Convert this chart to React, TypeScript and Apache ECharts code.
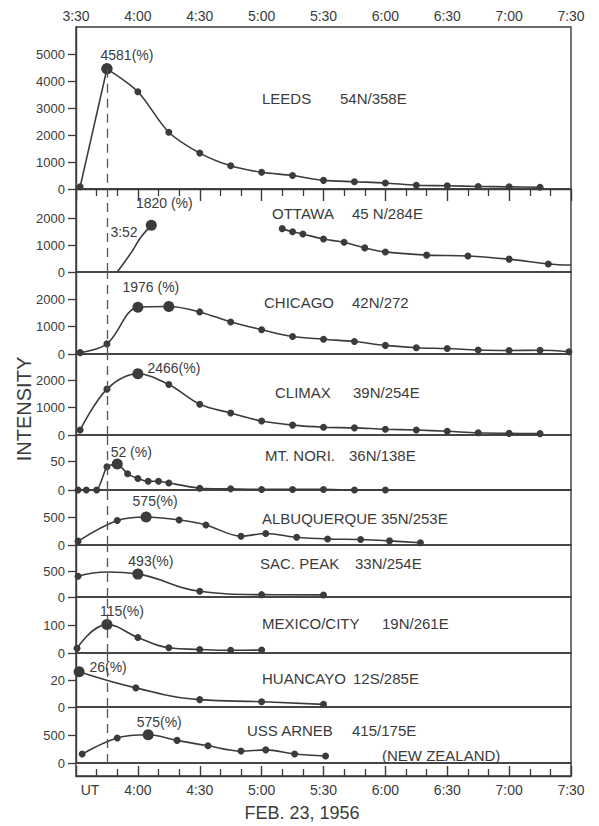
import React, { useEffect, useRef } from "react";
import * as echarts from "echarts";

// ---- time axis (minutes after 3:30 UT) ----
const timeMin = 0;
const timeMax = 240;
const timeInterval = 30;
const dashTime = 15; // dashed vertical line (~3:45)

// ---- station names / coordinates ----
const stationNames = ["LEEDS", "OTTAWA", "CHICAGO", "CLIMAX", "MT. NORI.", "ALBUQUERQUE", "SAC. PEAK", "MEXICO/CITY", "HUANCAYO", "USS ARNEB"];
const stationCoords = ["54N/358E", "45 N/284E", "42N/272", "39N/254E", "36N/138E", "35N/253E", "33N/254E", "19N/261E", "12S/285E", "415/175E"];
const peakLabels = ["4581(%)", "1820 (%)", "1976 (%)", "2466(%)", "52 (%)", "575(%)", "493(%)", "115(%)", "26(%)", "575(%)"];

// ---- y axis ranges and tick labels ----
const yMaxes = [6000, 3100, 3000, 2950, 95, 1000, 1000, 205, 41, 1025];
const leedsTicks = [0, 1000, 2000, 3000, 4000, 5000];
const ottawaTicks = [0, 1000, 2000];
const chicagoTicks = [0, 1000, 2000];
const climaxTicks = [0, 1000, 2000];
const noriTicks = [0, 50];
const albuTicks = [0, 500];
const sacTicks = [0, 500];
const mexicoTicks = [0, 100];
const huancayoTicks = [0, 20];
const arnebTicks = [0, 500];

// ---- series data (time in minutes after 3:30, intensity) ----
const leedsTime = [2, 15, 30, 45, 60, 75, 90, 105, 120, 135, 150, 165, 180, 195, 210, 225];
const leedsVal = [80, 4450, 3600, 2100, 1330, 860, 620, 500, 320, 270, 225, 140, 120, 95, 80, 65];

const ottawaRiseTime = [20, 27, 31, 36.5];
const ottawaRiseVal = [0, 750, 1250, 1750];
const ottawaTime = [100, 105, 110, 120, 130, 140, 150, 170, 190, 210, 229, 240];
const ottawaVal = [1620, 1500, 1420, 1230, 1110, 900, 750, 630, 600, 480, 300, 260];

const chicagoTime = [2, 15, 30, 45, 60, 75, 90, 105, 120, 135, 150, 165, 180, 195, 210, 225, 239];
const chicagoVal = [50, 370, 1710, 1740, 1540, 1170, 890, 640, 540, 455, 315, 230, 200, 145, 130, 135, 85];

const climaxTime = [2, 15, 30, 45, 60, 75, 90, 105, 120, 135, 150, 165, 180, 195, 210, 225];
const climaxVal = [180, 1670, 2230, 1840, 1120, 800, 510, 360, 285, 260, 210, 180, 135, 80, 60, 50];

const noriTime = [1, 5, 10, 15, 20, 25, 30, 35, 40, 45, 60, 75, 90, 105, 120, 135, 150, 240];
const noriVal = [0, 0, 0, 40, 45, 28, 20, 15, 15, 12, 3, 2, 1, 1, 1, 0, 0, 0];

const albuTime = [1, 20, 34, 50, 63, 80, 92, 107, 122, 138, 152, 167];
const albuVal = [70, 445, 510, 455, 365, 160, 210, 140, 110, 100, 75, 40];

const sacTime = [1, 15, 30, 60, 90, 120];
const sacVal = [400, 480, 440, 110, 45, 40];

const mexicoTime = [0.5, 15, 30, 45, 60, 75, 90];
const mexicoVal = [17, 104, 57, 19, 13, 10, 11];

const huancayoTime = [1.5, 29, 60, 90, 120];
const huancayoVal = [26.7, 14.5, 5.6, 4, 2];

const arnebTime = [3, 20, 35, 49, 64, 80, 92, 106, 121];
const arnebVal = [165, 458, 518, 414, 315, 218, 240, 165, 128];

// ---- styling / layout ----
const INK = "#3b3b3b";
const FONT = "'Liberation Sans', Arial, sans-serif";
const PLOT_LEFT = 76;
const PLOT_WIDTH = 495;
const panelTops = [27, 189, 272, 354, 435, 490, 545, 597, 653, 707];
const panelBottoms = [189, 272, 354, 435, 490, 545, 597, 653, 707, 763];
const STRIP_TOP = 763;
const STRIP_BOTTOM = 776;

function fmtTime(m: number): string {
  const total = 210 + m;
  const h = Math.floor(total / 60);
  const mm = Math.round(total % 60);
  return `${h}:${String(mm).padStart(2, "0")}`;
}

const labelOffsets: number[][] = [
  [20, -14], [13, -22], [13, -20], [36, -6], [14, -12], [9, -16], [13, -13], [15, -14], [29, -5], [11, -13],
];
const nameX = [262, 272, 264, 275, 265, 262, 260, 262, 262, 247];
const coordX = [340, 352, 352, 353, 349, 381, 355, 382, 353, 352];
const labelY = [98, 213, 302, 392, 455, 518, 563, 623, 678, 730];

function buildData(times: number[], vals: number[], bigIdx: number[], labelIdx: number, panel: number, hidden: number[] = []) {
  return times.map((t, i) => {
    const item: any = { value: [t, vals[i]] };
    if (hidden.includes(i)) item.symbol = "none";
    if (bigIdx.includes(i)) item.symbolSize = 11;
    if (i === labelIdx) {
      item.label = {
        show: true,
        position: "inside",
        offset: labelOffsets[panel],
        formatter: peakLabels[panel],
        fontSize: 14,
        fontFamily: FONT,
        color: INK,
      };
    }
    return item;
  });
}

export default function App() {
  const ref = useRef<HTMLDivElement>(null);

  useEffect(() => {
    if (!ref.current) return;
    const chart = echarts.init(ref.current, undefined, { renderer: "svg" });

    const tickSets = [leedsTicks, ottawaTicks, chicagoTicks, climaxTicks, noriTicks, albuTicks, sacTicks, mexicoTicks, huancayoTicks, arnebTicks];

    const grids: any[] = panelTops.map((top, i) => ({
      left: PLOT_LEFT,
      width: PLOT_WIDTH,
      top,
      height: panelBottoms[i] - top,
      show: true,
      borderColor: INK,
      borderWidth: 1.4,
      backgroundColor: "transparent",
    }));
    grids.push({
      left: PLOT_LEFT,
      width: PLOT_WIDTH,
      top: STRIP_TOP,
      height: STRIP_BOTTOM - STRIP_TOP,
      show: true,
      borderColor: INK,
      borderWidth: 1.4,
      backgroundColor: "transparent",
    });

    const xAxes: any[] = grids.map((_, i) => {
      const base: any = {
        gridIndex: i,
        type: "value",
        min: timeMin,
        max: timeMax,
        interval: timeInterval,
        splitLine: { show: false },
      };
      if (i === 0 || i === grids.length - 1) {
        const top = i === 0;
        return {
          ...base,
          position: top ? "top" : "bottom",
          axisLine: { show: true, lineStyle: { color: INK, width: 1.4 } },
          axisTick: { show: true, inside: true, length: top ? 12 : 10, lineStyle: { color: INK, width: 1.4 } },
          minorTick: { show: true, splitNumber: 3, length: 7, lineStyle: { color: INK, width: 1.3 } },
          axisLabel: {
            show: true,
            margin: top ? 4 : 7,
            fontSize: 14,
            fontFamily: FONT,
            color: INK,
            formatter: (v: number) => (!top && v === 0 ? "{u|UT}" : fmtTime(v)),
            rich: { u: { padding: [0, 0, 0, 28], fontSize: 14, fontFamily: FONT, color: INK } },
          },
        };
      }
      return { ...base, show: false };
    });

    const yAxes: any[] = grids.map((_, i) => {
      if (i === grids.length - 1) {
        return { gridIndex: i, type: "value", min: 0, max: 1, show: false };
      }
      const ticks = tickSets[i];
      return {
        gridIndex: i,
        type: "value",
        min: 0,
        max: yMaxes[i],
        splitLine: { show: false },
        axisLine: { show: true, lineStyle: { color: INK, width: 1.4 } },
        axisTick: { show: true, length: 8, customValues: ticks, lineStyle: { color: INK, width: 1.3 } },
        axisLabel: {
          show: true,
          customValues: ticks,
          margin: 11,
          fontSize: 13,
          fontFamily: FONT,
          color: INK,
          formatter: (v: number) => (ticks.includes(v) ? String(v) : ""),
        },
      };
    });

    const lineStyle = { color: INK, width: 1.6 };
    const dashStyle = { color: "#555", width: 1.3, type: [9, 6] as any };
    const mkFull = {
      symbol: ["none", "none"],
      silent: true,
      label: { show: false },
      lineStyle: dashStyle,
      data: [{ xAxis: dashTime }],
    };
    const mk = (i: number, data: any[], extra: any = {}) => ({
      type: "line",
      xAxisIndex: i,
      yAxisIndex: i,
      smooth: 0.35,
      symbol: "circle",
      symbolSize: 7,
      showAllSymbol: true,
      itemStyle: { color: INK },
      lineStyle,
      data,
      ...extra,
    });

    const leedsData = buildData(leedsTime, leedsVal, [1], 1, 0);
    const series: any[] = [
      // Leeds: straight rise to the peak, smooth decay after it
      mk(0, leedsData.slice(0, 2), {
        smooth: false,
        markLine: {
          ...mkFull,
          data: [[{ coord: [dashTime, leedsVal[1]] }, { coord: [dashTime, 0] }]],
        },
      }),
      mk(0, leedsData.slice(1).map((d: any, k: number) => (k === 0 ? { value: d.value, symbolSize: 11 } : d)), { smooth: 0.3 }),
      mk(1, buildData(ottawaRiseTime, ottawaRiseVal, [3], 3, 1, [0, 1, 2]), { markLine: mkFull }),
      mk(1, buildData(ottawaTime, ottawaVal, [], -1, 1, [ottawaTime.length - 1])),
      mk(2, buildData(chicagoTime, chicagoVal, [2, 3], 2, 2), { markLine: mkFull }),
      mk(3, buildData(climaxTime, climaxVal, [2], 2, 3), { markLine: mkFull }),
      mk(4, buildData(noriTime, noriVal, [4], 4, 4, [noriTime.length - 1]), { smooth: 0.2, markLine: mkFull }),
      mk(5, buildData(albuTime, albuVal, [2], 2, 5), { markLine: mkFull }),
      mk(6, buildData(sacTime, sacVal, [2], 2, 6, [1]), { smooth: 0.45, markLine: mkFull }),
      mk(7, buildData(mexicoTime, mexicoVal, [1], 1, 7), { smooth: 0.45, markLine: mkFull }),
      mk(8, buildData(huancayoTime, huancayoVal, [0], 0, 8), { smooth: 0.45, markLine: mkFull }),
      mk(9, buildData(arnebTime, arnebVal, [2], 2, 9), { markLine: mkFull }),
    ];

    const STATION_FS = 15;
    const graphic: any[] = [];
    stationNames.forEach((name, i) => {
      graphic.push({
        type: "text",
        x: nameX[i],
        y: labelY[i],
        silent: true,
        style: { text: name, fontSize: STATION_FS, fontFamily: FONT, fill: INK, verticalAlign: "middle", align: "left" },
      });
      graphic.push({
        type: "text",
        x: coordX[i],
        y: labelY[i],
        silent: true,
        style: { text: stationCoords[i], fontSize: STATION_FS, fontFamily: FONT, fill: INK, verticalAlign: "middle", align: "left" },
      });
    });
    graphic.push({
      type: "text",
      x: 382,
      y: 755,
      silent: true,
      style: { text: "(NEW ZEALAND)", fontSize: STATION_FS, fontFamily: FONT, fill: INK, verticalAlign: "middle", align: "left" },
    });
    graphic.push({
      type: "text",
      x: 124,
      y: 232,
      silent: true,
      style: { text: "3:52", fontSize: 14, fontFamily: FONT, fill: INK, verticalAlign: "middle", align: "center" },
    });
    graphic.push({
      type: "text",
      x: 24,
      y: 409,
      rotation: Math.PI / 2,
      silent: true,
      style: { text: "INTENSITY", fontSize: 20, fontFamily: FONT, fill: INK, verticalAlign: "middle", align: "center" },
    });
    graphic.push({
      type: "text",
      x: 302,
      y: 813,
      silent: true,
      style: { text: "FEB. 23, 1956", fontSize: 18, fontFamily: FONT, fill: INK, verticalAlign: "middle", align: "center" },
    });

    chart.setOption({
      animation: false,
      backgroundColor: "#ffffff",
      grid: grids,
      xAxis: xAxes,
      yAxis: yAxes,
      series,
      graphic,
    });

    return () => chart.dispose();
  }, []);

  return (
    <div
      ref={ref}
      style={{ position: "fixed", left: 0, top: 0, width: 599, height: 826, background: "#fff" }}
    />
  );
}
